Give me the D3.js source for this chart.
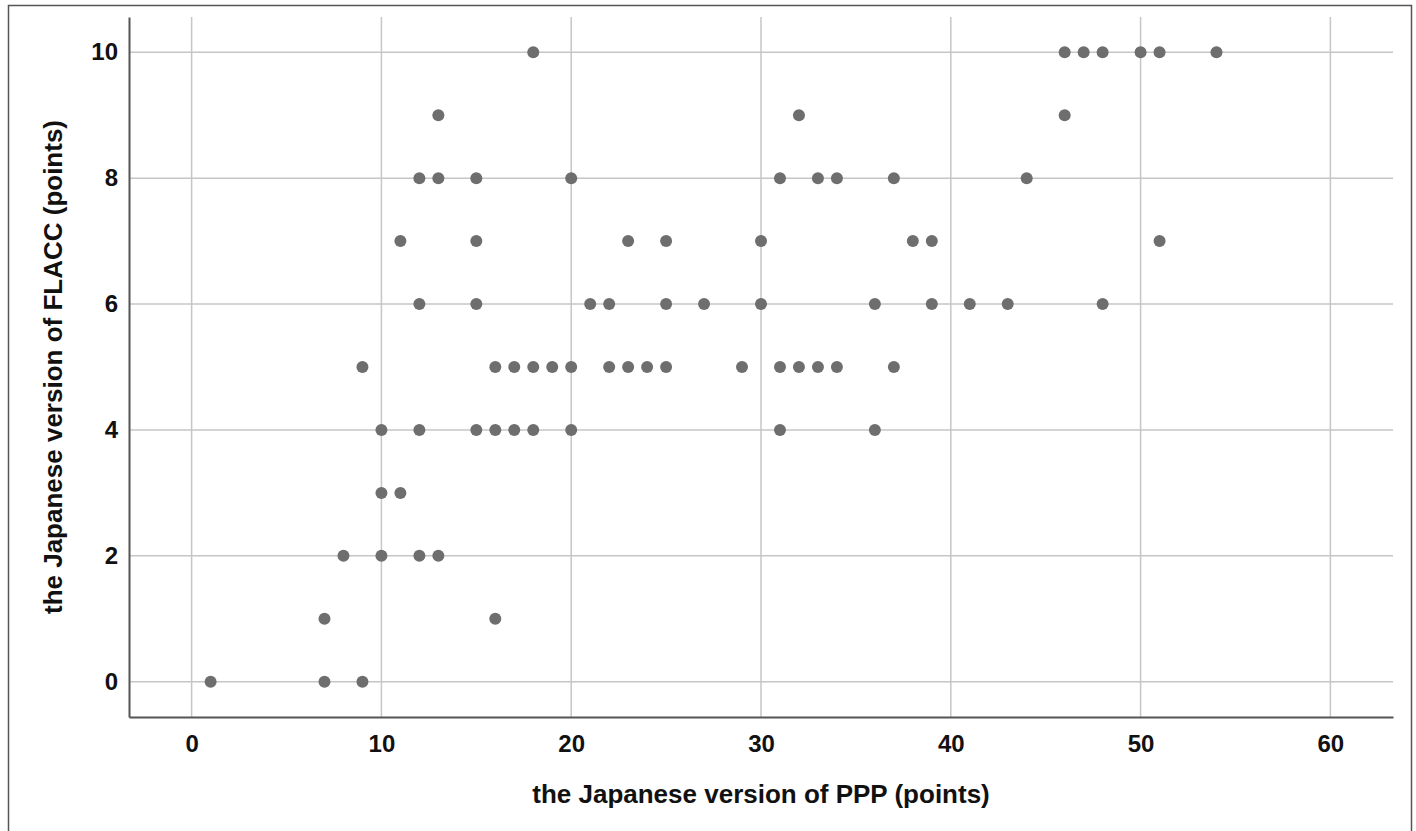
<!DOCTYPE html>
<html>
<head>
<meta charset="utf-8">
<script src="https://cdn.jsdelivr.net/npm/d3@7"></script>
<style>
  html, body { margin: 0; padding: 0; background: #fff; }
  svg { display: block; font-family: "Liberation Sans", Arial, sans-serif; }
</style>
</head>
<body>
<svg id="chart" width="1416" height="831"></svg>
<script>
// scores, one entry per dot
const ppp = [
  18, 46, 47, 48, 50, 51, 54,
  13, 32, 46,
  12, 13, 15, 20, 31, 33, 34, 37, 44,
  11, 15, 23, 25, 30, 38, 39, 51,
  12, 15, 21, 22, 25, 27, 30, 36, 39, 41, 43, 48,
  9, 16, 17, 18, 19, 20, 22, 23, 24, 25, 29, 31, 32, 33, 34, 37,
  10, 12, 15, 16, 17, 18, 20, 31, 36,
  10, 11,
  8, 10, 12, 13,
  7, 16,
  1, 7, 9
];
const flacc = [
  10, 10, 10, 10, 10, 10, 10,
  9, 9, 9,
  8, 8, 8, 8, 8, 8, 8, 8, 8,
  7, 7, 7, 7, 7, 7, 7, 7,
  6, 6, 6, 6, 6, 6, 6, 6, 6, 6, 6, 6,
  5, 5, 5, 5, 5, 5, 5, 5, 5, 5, 5, 5, 5, 5, 5, 5,
  4, 4, 4, 4, 4, 4, 4, 4, 4,
  3, 3,
  2, 2, 2, 2,
  1, 1,
  0, 0, 0
];
const xTicks = [0, 10, 20, 30, 40, 50, 60];
const yTicks = [0, 2, 4, 6, 8, 10];
const xTitle = "the Japanese version of PPP (points)";
const yTitle = "the Japanese version of FLACC (points)";

const svg = d3.select("#chart");

// plot box (window.top is taken, so plain names with a prefix)
const boxL = 129, boxR = 1393, boxT = 17, boxB = 717;

const x = d3.scaleLinear().domain([-3.3, 63.3]).range([boxL, boxR]);
const y = d3.scaleLinear().domain([-0.56, 10.56]).range([boxB, boxT]);

// outer frame round the whole figure
svg.append("path")
  .attr("d", "M8.5,840 L8.5,5.5 L1411.5,5.5 L1411.5,840")
  .attr("fill", "none")
  .attr("stroke", "#555")
  .attr("stroke-width", 1.5);

// gridlines
svg.append("g")
  .selectAll("line")
  .data(xTicks)
  .join("line")
  .attr("x1", d => x(d)).attr("x2", d => x(d))
  .attr("y1", boxT).attr("y2", boxB)
  .attr("stroke", "#c6c6c6")
  .attr("stroke-width", 1.5);

svg.append("g")
  .selectAll("line")
  .data(yTicks)
  .join("line")
  .attr("x1", boxL).attr("x2", boxR)
  .attr("y1", d => y(d)).attr("y2", d => y(d))
  .attr("stroke", "#c6c6c6")
  .attr("stroke-width", 1.5);

// axes: just the spine and the labels, no tick marks
const xAxis = svg.append("g")
  .attr("transform", `translate(0,${boxB})`)
  .call(d3.axisBottom(x).tickValues(xTicks).tickSize(0).tickPadding(18));
const yAxis = svg.append("g")
  .attr("transform", `translate(${boxL},0)`)
  .call(d3.axisLeft(y).tickValues(yTicks).tickSize(0).tickPadding(11));

[xAxis, yAxis].forEach(g => {
  g.select(".domain").attr("stroke", "#555").attr("stroke-width", 2);
  g.selectAll("text")
    .attr("font-family", "Liberation Sans, Arial, sans-serif")
    .attr("font-size", 24)
    .attr("font-weight", "bold")
    .attr("fill", "#111");
});

// dots
svg.append("g")
  .selectAll("circle")
  .data(ppp.map((p, i) => [p, flacc[i]]))
  .join("circle")
  .attr("cx", d => x(d[0]))
  .attr("cy", d => y(d[1]))
  .attr("r", 6)
  .attr("fill", "#6e6e6e");

// axis titles
svg.append("text")
  .attr("x", (boxL + boxR) / 2)
  .attr("y", 803)
  .attr("text-anchor", "middle")
  .attr("font-size", 26)
  .attr("font-weight", "bold")
  .attr("fill", "#111")
  .text(xTitle);

svg.append("text")
  .attr("transform", `translate(62,${(boxT + boxB) / 2}) rotate(-90)`)
  .attr("text-anchor", "middle")
  .attr("font-size", 26)
  .attr("font-weight", "bold")
  .attr("fill", "#111")
  .text(yTitle);
</script>
</body>
</html>
